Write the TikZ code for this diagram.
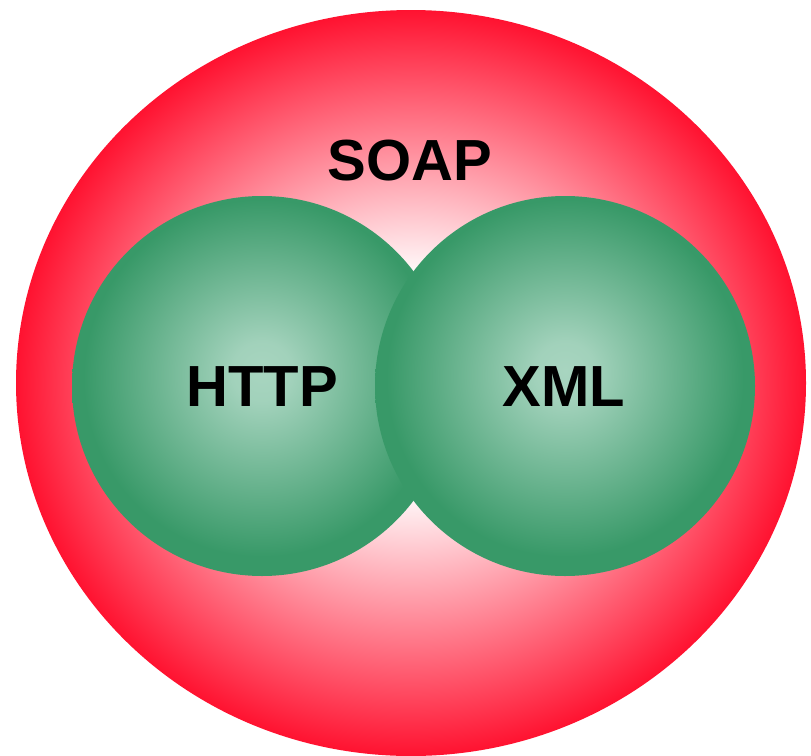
\documentclass[tikz,border=0pt]{standalone}
\usepackage{fontspec}
\setmainfont{Liberation Sans}
\usetikzlibrary{shapes.geometric}

\definecolor{soapred}{RGB}{255,18,48}
\definecolor{balldark}{RGB}{56,153,104}
\definecolor{balllight}{RGB}{168,213,192}

% pale centre fading to red at the rim
\pgfdeclareradialshading{soapshade}{\pgfpoint{0bp}{0bp}}{%
  color(0bp)=(white); color(7bp)=(white); color(25bp)=(soapred); color(50bp)=(soapred)}
% light green core fading smoothly to the darker rim
\pgfdeclareradialshading{ballshade}{\pgfpoint{0bp}{2bp}}{%
  color(0bp)=(balllight); color(4bp)=(balllight!94!balldark);
  color(23.5bp)=(balldark); color(50bp)=(balldark)}

\tikzset{
  ball/.style={circle, inner sep=0pt, minimum size=380pt, shading=ballshade},
  label/.style={font=\fontsize{58}{60}\selectfont\bfseries, text=black, inner sep=0pt}
}

\begin{document}
\begin{tikzpicture}[x=1pt,y=-1pt]
  \useasboundingbox (0,0) rectangle (811,755);
  \clip (0,0) rectangle (811,755);

  \node[ellipse, inner sep=0pt, minimum width=790pt, minimum height=746pt,
        shading=soapshade] (soap) at (411,383) {};

  \node[ball] (httpball) at (262,386) {};
  \node[ball] (xmlball)  at (565,386) {};

  \node[label] (soaplabel) at (410,161) {SOAP};
  \node[label] (http) at (262,387) {HTTP};
  \node[label] (xml)  at (564,387) {XML};
\end{tikzpicture}
\end{document}
